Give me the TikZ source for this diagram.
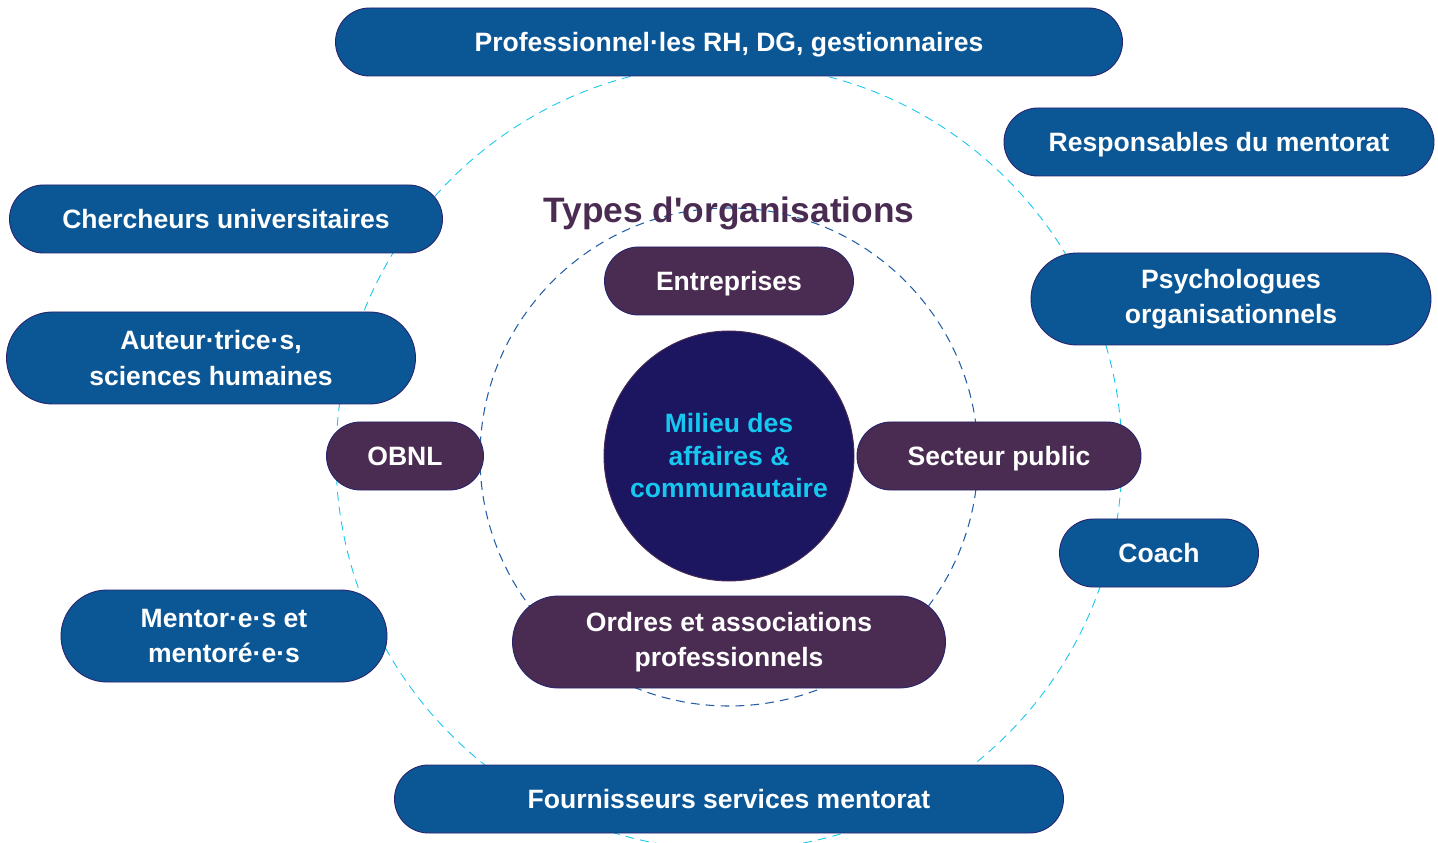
\documentclass[tikz,border=0pt]{standalone}
\usepackage{fontspec}
\setmainfont{Liberation Sans}
\usepackage{tikz}
\usetikzlibrary{shapes.misc}
\definecolor{bluepill}{RGB}{11, 87, 150}
\definecolor{plumpill}{RGB}{74, 44, 82}
\definecolor{navycore}{RGB}{28, 22, 96}
\definecolor{cyanink}{RGB}{22, 200, 240}
\definecolor{ringblue}{RGB}{35, 95, 165}
\definecolor{edgeline}{RGB}{40, 35, 110}

\begin{document}
\begin{tikzpicture}[x=0.2mm, y=-0.2mm, font=\bfseries\fontsize{15.1}{20}\selectfont,
  pill/.style={rounded rectangle, draw=edgeline, line width=0.5pt, text=white,
    align=center, inner sep=0pt, minimum height=13.6mm},
  bluepill/.style={pill, fill=bluepill},
  plumpill/.style={pill, fill=plumpill},
  oneline/.style={text height=11pt, text depth=0pt},
  tall/.style={minimum height=18.4mm}]
  \useasboundingbox (0,0) rectangle (1438,843);
  % rings
  \draw[cyanink, dashed, line width=0.5pt, dash pattern=on 5pt off 3.5pt] (729,457) circle (78.6mm);
  \draw[ringblue, dashed, line width=0.6pt, dash pattern=on 5pt off 3.5pt] (729,457) circle (49.8mm);
  \node (titre) [text=plumpill, font=\bfseries\fontsize{20.1}{24}\selectfont] at (729,213) {Types d\textquotesingle organisations};
  % centre
  \node (milieu) [circle, fill=navycore, draw=plumpill, line width=0.5pt, minimum size=50mm,
    inner sep=0pt, text=cyanink, align=center, font=\bfseries\fontsize{15.1}{18.5}\selectfont]
    at (729,456) {Milieu des\\affaires \&\\communautaire};
  % types d'organisations
  \node (entreprises) [plumpill, oneline, minimum width=49.8mm] at (729,281) {Entreprises};
  \node (obnl) [plumpill, oneline, minimum width=31.4mm] at (405,456) {OBNL};
  \node (public) [plumpill, oneline, minimum width=56.8mm] at (999,456) {Secteur public};
  \node (ordres) [plumpill, tall, minimum width=86.6mm] at (729,642) {Ordres et associations\\professionnels};
  % acteurs
  \node (rh) [bluepill, oneline, minimum width=157.4mm] at (729,42) {Professionnel·les RH, DG, gestionnaires};
  \node (resp) [bluepill, oneline, minimum width=86mm] at (1219,142) {Responsables du mentorat};
  \node (cherch) [bluepill, oneline, minimum width=86.6mm] at (226,219) {Chercheurs universitaires};
  \node (psy) [bluepill, tall, minimum width=80mm] at (1231,299) {Psychologues\\organisationnels};
  \node (auteur) [bluepill, tall, minimum width=81.8mm] at (211,358) {Auteur·trice·s,\\sciences humaines};
  \node (coach) [bluepill, oneline, minimum width=39.8mm] at (1159,553) {Coach};
  \node (mentor) [bluepill, tall, minimum width=65.2mm] at (224,636) {Mentor·e·s et\\mentoré·e·s};
  \node (fourn) [bluepill, oneline, minimum width=133.8mm] at (729,799) {Fournisseurs services mentorat};
\end{tikzpicture}
\end{document}
